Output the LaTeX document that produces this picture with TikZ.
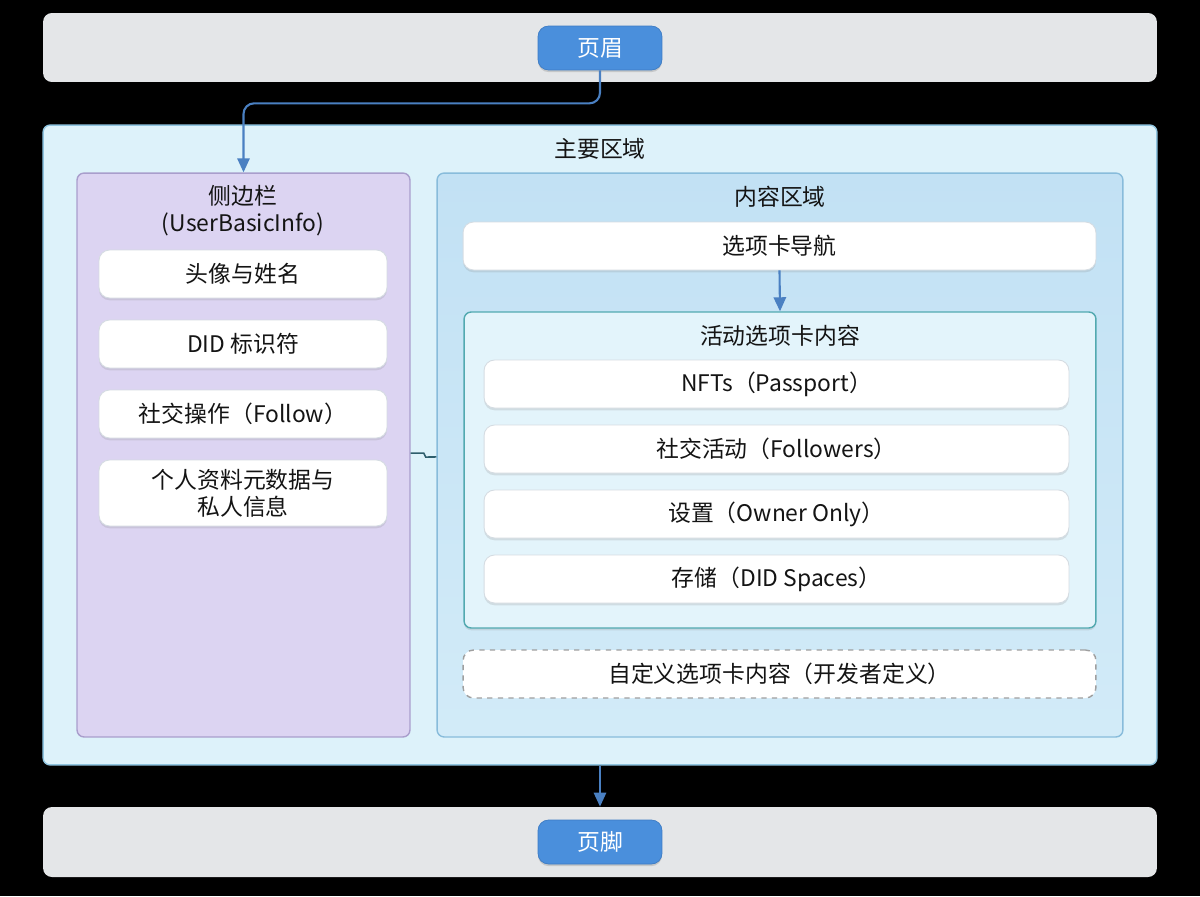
\documentclass[tikz,border=0pt]{standalone}
\usepackage{fontspec}
\setmainfont{Noto Sans CJK SC}
\usetikzlibrary{arrows.meta,shadows}

\definecolor{barGray}{HTML}{E4E6E8}
\definecolor{btnBlue}{HTML}{4A8FDC}
\definecolor{btnEdge}{HTML}{3C7BC4}
\definecolor{mainFill}{HTML}{DDF2FA}
\definecolor{mainEdge}{HTML}{8FC4DF}
\definecolor{sideFill}{HTML}{DCD4F2}
\definecolor{sideEdge}{HTML}{A99ECC}
\definecolor{contTop}{HTML}{C2E1F4}
\definecolor{contBot}{HTML}{D2EBF8}
\definecolor{contEdge}{HTML}{88BCDB}
\definecolor{actFill}{HTML}{E3F4FB}
\definecolor{actEdge}{HTML}{52A9B0}
\definecolor{itemEdge}{HTML}{D5DCE2}
\definecolor{linkBlue}{HTML}{4A80C2}
\definecolor{wireTeal}{HTML}{2E5E6C}
\definecolor{ink}{HTML}{141414}

\tikzset{
  every node/.style={font=\fontsize{13}{15.3}\selectfont, text=ink},
  bar/.style={rounded corners=5pt, fill=barGray, minimum width=22.28cm, minimum height=1.38cm},
  btn/.style={rounded corners=6pt, fill=btnBlue, draw=btnEdge, text=white,
    minimum width=2.48cm, minimum height=0.88cm,
    drop shadow={opacity=0.3, shadow xshift=0pt, shadow yshift=-1.2pt}},
  panel/.style={rounded corners=4pt, line width=0.8pt},
  item/.style={rounded corners=6pt, fill=white, draw=itemEdge, line width=0.5pt,
    minimum height=0.96cm,
    drop shadow={opacity=0.2, shadow xshift=0pt, shadow yshift=-1.3pt}},
  sideitem/.style={item, minimum width=5.76cm},
  tabitem/.style={item, minimum width=11.7cm},
  link/.style={draw=linkBlue, line width=1.2pt, rounded corners=6pt,
    -{Triangle[length=8pt,width=7pt]}},
}

\begin{document}
\begin{tikzpicture}[x=0.02cm, y=-0.02cm]
  \fill[black] (0,0) rectangle (1200,896);
  \useasboundingbox (0,0) rectangle (1200,896);

  % header and footer
  \node[bar] (headbar) at (600,47.5) {};
  \node[btn] (head) at (600,48) {页眉};
  \node[bar, minimum height=1.4cm] (footbar) at (600,842) {};
  \node[btn] (foot) at (600,842) {页脚};

  % main area
  \node[panel, fill=mainFill, draw=mainEdge, minimum width=22.28cm, minimum height=12.8cm] (main) at (600,445) {};
  \node (mainlbl) at (600,149) {主要区域};

  % sidebar
  \node[panel, fill=sideFill, draw=sideEdge, minimum width=6.66cm, minimum height=11.28cm] (side) at (243.5,455) {};
  \node[align=center] (sidelbl) at (243,211) {侧边栏\\(UserBasicInfo)};
  \node[sideitem] (avatar) at (243,274) {头像与姓名};
  \node[sideitem] (did) at (243,344) {DID 标识符};
  \node[sideitem] (social) at (243,414) {社交操作（Follow）};
  \node[sideitem, minimum height=1.32cm, align=center] (meta) at (243,493) {个人资料元数据与\\私人信息};

  % content area
  \node[panel, top color=contTop, bottom color=contBot, draw=contEdge, minimum width=13.72cm, minimum height=11.28cm] (content) at (780,455) {};
  \node (contlbl) at (780,197) {内容区域};
  \node[item, minimum width=12.66cm] (tabnav) at (779.5,246) {选项卡导航};
  \node[panel, fill=actFill, draw=actEdge, minimum width=12.64cm, minimum height=6.32cm,
    drop shadow={opacity=0.2, shadow xshift=0pt, shadow yshift=-1.3pt}] (active) at (780,470) {};
  \node (actlbl) at (780,336) {活动选项卡内容};
  \node[tabitem] (nfts) at (776.5,384) {NFTs（Passport）};
  \node[tabitem] (follow) at (776.5,449) {社交活动（Followers）};
  \node[tabitem] (owner) at (776.5,514) {设置（Owner Only）};
  \node[tabitem] (spaces) at (776.5,579) {存储（DID Spaces）};
  \node[rounded corners=6pt, fill=white, draw=gray!75, dashed, line width=0.8pt,
    minimum width=12.66cm, minimum height=0.96cm] (custom) at (779.5,674) {自定义选项卡内容（开发者定义）};

  % connectors
  \draw[link] (head.south) -- ++(0,33) -| (side.north);
  \draw[link] (tabnav.south) -- (active.north);
  \draw[link] (main.south) -- (footbar.north);
  \draw[wireTeal, line width=0.9pt] ([yshift=1.1pt]side.east) -- ++(13,0) -- ++(2,4) -- ([yshift=-1.1pt]content.west);
\end{tikzpicture}
\end{document}
